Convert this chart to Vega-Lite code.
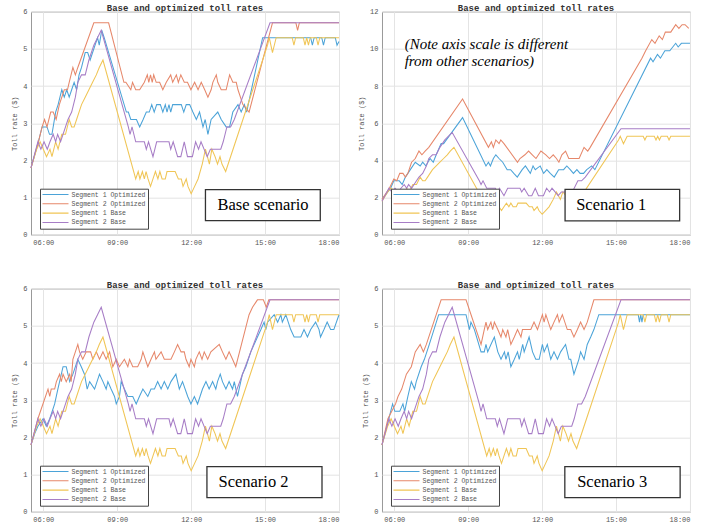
{
  "$schema": "https://vega.github.io/schema/vega-lite/v6.json",
  "background": "white",
  "padding": {"left": 10, "top": 3.7, "right": 0, "bottom": 0},
  "config": {
    "font": "Liberation Mono",
    "view": {"stroke": "#999999", "strokeWidth": 1},
    "title": {"font": "Liberation Mono", "fontSize": 9, "fontWeight": "bold", "color": "#333333", "offset": -5.8},
    "axis": {"domain": false, "ticks": false, "labelOverlap": false, "labelBound": false, "labelSeparation": 0, "gridColor": "#e4e4e4", "gridWidth": 1, "labelFont": "Liberation Mono", "labelFontSize": 7, "labelColor": "#555555", "titleFont": "Liberation Mono", "titleFontSize": 7, "titleColor": "#555555", "titleFontWeight": "normal"},
    "legend": {"symbolType": "stroke", "symbolSize": 676, "symbolStrokeWidth": 1, "clipHeight": 8.7, "rowPadding": 0.3, "padding": 1.5, "strokeColor": "#444444", "fillColor": "white", "labelFont": "Liberation Mono", "labelFontSize": 6.5, "labelColor": "#555555", "labelOffset": 2, "cornerRadius": 0},
    "line": {"strokeWidth": 1.05}
  },
  "datasets": {
    "base": [
      {"s":"1B","h":5.5,"v":1.8},{"s":"1B","h":5.73,"v":2.3},{"s":"1B","h":5.87,"v":2.5},{"s":"1B","h":6.0,"v":2.3},{"s":"1B","h":6.13,"v":2.1},{"s":"1B","h":6.27,"v":2.3},{"s":"1B","h":6.35,"v":2.1},{"s":"1B","h":6.5,"v":2.5},{"s":"1B","h":6.6,"v":2.3},{"s":"1B","h":6.75,"v":2.7},{"s":"1B","h":6.9,"v":2.7},{"s":"1B","h":7.05,"v":3.1},{"s":"1B","h":7.15,"v":2.9},{"s":"1B","h":7.25,"v":2.9},{"s":"1B","h":7.35,"v":3.1},{"s":"1B","h":7.55,"v":3.5},{"s":"1B","h":7.7,"v":3.7},{"s":"1B","h":7.85,"v":3.9},{"s":"1B","h":8.0,"v":4.1},{"s":"1B","h":8.15,"v":4.3},{"s":"1B","h":8.27,"v":4.5},{"s":"1B","h":8.42,"v":4.7},{"s":"1B","h":9.75,"v":1.5},{"s":"1B","h":9.85,"v":1.7},{"s":"1B","h":9.92,"v":1.5},{"s":"1B","h":10.02,"v":1.7},{"s":"1B","h":10.1,"v":1.5},{"s":"1B","h":10.17,"v":1.7},{"s":"1B","h":10.25,"v":1.5},{"s":"1B","h":10.35,"v":1.3},{"s":"1B","h":10.45,"v":1.5},{"s":"1B","h":10.55,"v":1.7},{"s":"1B","h":10.65,"v":1.5},{"s":"1B","h":10.73,"v":1.7},{"s":"1B","h":10.82,"v":1.5},{"s":"1B","h":10.95,"v":1.5},{"s":"1B","h":11.02,"v":1.7},{"s":"1B","h":11.35,"v":1.7},{"s":"1B","h":11.48,"v":1.5},{"s":"1B","h":11.6,"v":1.5},{"s":"1B","h":11.67,"v":1.3},{"s":"1B","h":11.8,"v":1.5},{"s":"1B","h":11.87,"v":1.3},{"s":"1B","h":12.0,"v":1.1},{"s":"1B","h":12.14,"v":1.3},{"s":"1B","h":12.28,"v":1.5},{"s":"1B","h":12.45,"v":1.9},{"s":"1B","h":12.58,"v":2.3},{"s":"1B","h":12.66,"v":2.1},{"s":"1B","h":12.74,"v":1.9},{"s":"1B","h":12.84,"v":2.3},{"s":"1B","h":12.97,"v":2.1},{"s":"1B","h":13.07,"v":1.9},{"s":"1B","h":13.17,"v":2.1},{"s":"1B","h":13.25,"v":1.9},{"s":"1B","h":13.4,"v":1.7},{"s":"1B","h":15.1,"v":5.1},{"s":"1B","h":15.17,"v":5.3},{"s":"1B","h":15.3,"v":4.9},{"s":"1B","h":15.45,"v":5.3},{"s":"1B","h":16.1,"v":5.3},{"s":"1B","h":16.17,"v":5.1},{"s":"1B","h":16.24,"v":5.3},{"s":"1B","h":16.55,"v":5.3},{"s":"1B","h":16.62,"v":5.1},{"s":"1B","h":16.69,"v":5.3},{"s":"1B","h":16.76,"v":5.1},{"s":"1B","h":16.83,"v":5.3},{"s":"1B","h":17.08,"v":5.3},{"s":"1B","h":17.15,"v":5.1},{"s":"1B","h":17.22,"v":5.3},{"s":"1B","h":18.0,"v":5.3},
      {"s":"2B","h":5.5,"v":1.8},{"s":"2B","h":5.78,"v":2.5},{"s":"2B","h":5.9,"v":2.3},{"s":"2B","h":6.03,"v":2.5},{"s":"2B","h":6.16,"v":2.3},{"s":"2B","h":6.27,"v":2.5},{"s":"2B","h":6.4,"v":2.7},{"s":"2B","h":6.5,"v":2.5},{"s":"2B","h":6.58,"v":2.7},{"s":"2B","h":6.7,"v":2.5},{"s":"2B","h":6.9,"v":2.9},{"s":"2B","h":7.0,"v":3.1},{"s":"2B","h":7.15,"v":3.3},{"s":"2B","h":7.3,"v":3.7},{"s":"2B","h":7.4,"v":4.1},{"s":"2B","h":7.55,"v":4.3},{"s":"2B","h":7.7,"v":4.3},{"s":"2B","h":7.85,"v":4.7},{"s":"2B","h":8.05,"v":5.1},{"s":"2B","h":8.2,"v":5.3},{"s":"2B","h":8.35,"v":5.5},{"s":"2B","h":9.45,"v":2.9},{"s":"2B","h":9.52,"v":2.7},{"s":"2B","h":9.6,"v":2.9},{"s":"2B","h":9.75,"v":2.5},{"s":"2B","h":10.1,"v":2.5},{"s":"2B","h":10.18,"v":2.3},{"s":"2B","h":10.27,"v":2.5},{"s":"2B","h":10.45,"v":2.1},{"s":"2B","h":10.6,"v":2.5},{"s":"2B","h":11.1,"v":2.5},{"s":"2B","h":11.17,"v":2.3},{"s":"2B","h":11.27,"v":2.5},{"s":"2B","h":11.45,"v":2.1},{"s":"2B","h":11.58,"v":2.1},{"s":"2B","h":11.72,"v":2.5},{"s":"2B","h":11.85,"v":2.1},{"s":"2B","h":12.05,"v":2.1},{"s":"2B","h":12.18,"v":2.5},{"s":"2B","h":12.3,"v":2.3},{"s":"2B","h":12.4,"v":2.5},{"s":"2B","h":12.65,"v":2.1},{"s":"2B","h":12.78,"v":2.3},{"s":"2B","h":13.2,"v":2.3},{"s":"2B","h":13.3,"v":2.5},{"s":"2B","h":13.45,"v":2.9},{"s":"2B","h":13.6,"v":2.9},{"s":"2B","h":13.75,"v":3.1},{"s":"2B","h":15.2,"v":5.7},{"s":"2B","h":18.0,"v":5.7}
    ],
    "opt0": [
      {"s":"1O","h":5.5,"v":1.8},{"s":"1O","h":5.8,"v":2.5},{"s":"1O","h":5.95,"v":2.9},{"s":"1O","h":6.15,"v":2.9},{"s":"1O","h":6.25,"v":2.7},{"s":"1O","h":6.35,"v":2.7},{"s":"1O","h":6.5,"v":3.3},{"s":"1O","h":6.6,"v":3.5},{"s":"1O","h":6.75,"v":3.9},{"s":"1O","h":6.85,"v":3.7},{"s":"1O","h":6.95,"v":3.9},{"s":"1O","h":7.05,"v":3.7},{"s":"1O","h":7.15,"v":3.9},{"s":"1O","h":7.25,"v":4.1},{"s":"1O","h":7.35,"v":3.9},{"s":"1O","h":7.45,"v":4.3},{"s":"1O","h":7.55,"v":4.5},{"s":"1O","h":7.7,"v":4.9},{"s":"1O","h":7.8,"v":4.9},{"s":"1O","h":7.9,"v":4.7},{"s":"1O","h":8.1,"v":5.1},{"s":"1O","h":8.2,"v":5.3},{"s":"1O","h":8.27,"v":5.1},{"s":"1O","h":8.37,"v":5.5},{"s":"1O","h":8.47,"v":5.3},{"s":"1O","h":9.37,"v":3.3},{"s":"1O","h":9.45,"v":3.3},{"s":"1O","h":9.55,"v":3.1},{"s":"1O","h":9.78,"v":3.1},{"s":"1O","h":9.91,"v":2.9},{"s":"1O","h":10.05,"v":3.1},{"s":"1O","h":10.18,"v":3.3},{"s":"1O","h":10.3,"v":3.3},{"s":"1O","h":10.4,"v":3.5},{"s":"1O","h":10.5,"v":3.3},{"s":"1O","h":10.6,"v":3.5},{"s":"1O","h":10.75,"v":3.5},{"s":"1O","h":10.85,"v":3.3},{"s":"1O","h":10.95,"v":3.5},{"s":"1O","h":11.02,"v":3.3},{"s":"1O","h":11.1,"v":3.5},{"s":"1O","h":11.17,"v":3.3},{"s":"1O","h":11.25,"v":3.5},{"s":"1O","h":11.6,"v":3.5},{"s":"1O","h":11.7,"v":3.3},{"s":"1O","h":11.8,"v":3.5},{"s":"1O","h":11.94,"v":3.5},{"s":"1O","h":12.07,"v":3.3},{"s":"1O","h":12.21,"v":3.1},{"s":"1O","h":12.34,"v":3.3},{"s":"1O","h":12.48,"v":2.9},{"s":"1O","h":12.57,"v":3.1},{"s":"1O","h":12.68,"v":2.7},{"s":"1O","h":12.81,"v":3.1},{"s":"1O","h":13.08,"v":3.3},{"s":"1O","h":13.22,"v":3.1},{"s":"1O","h":13.42,"v":2.9},{"s":"1O","h":13.56,"v":2.9},{"s":"1O","h":13.69,"v":3.3},{"s":"1O","h":13.9,"v":3.5},{"s":"1O","h":14.03,"v":3.3},{"s":"1O","h":14.16,"v":3.5},{"s":"1O","h":14.25,"v":3.3},{"s":"1O","h":14.9,"v":5.3},{"s":"1O","h":16.85,"v":5.3},{"s":"1O","h":16.92,"v":5.1},{"s":"1O","h":16.99,"v":5.3},{"s":"1O","h":17.3,"v":5.3},{"s":"1O","h":17.37,"v":5.1},{"s":"1O","h":17.44,"v":5.3},{"s":"1O","h":17.85,"v":5.3},{"s":"1O","h":17.92,"v":5.1},{"s":"1O","h":18.0,"v":5.2},
      {"s":"2O","h":5.5,"v":1.8},{"s":"2O","h":5.8,"v":2.5},{"s":"2O","h":5.95,"v":2.9},{"s":"2O","h":6.05,"v":3.1},{"s":"2O","h":6.15,"v":2.9},{"s":"2O","h":6.3,"v":3.3},{"s":"2O","h":6.4,"v":3.3},{"s":"2O","h":6.52,"v":3.1},{"s":"2O","h":6.65,"v":3.5},{"s":"2O","h":6.85,"v":3.9},{"s":"2O","h":6.98,"v":3.9},{"s":"2O","h":7.05,"v":4.1},{"s":"2O","h":7.2,"v":4.5},{"s":"2O","h":7.3,"v":4.3},{"s":"2O","h":7.4,"v":4.5},{"s":"2O","h":8.05,"v":5.7},{"s":"2O","h":8.65,"v":5.7},{"s":"2O","h":9.27,"v":4.1},{"s":"2O","h":9.35,"v":4.1},{"s":"2O","h":9.55,"v":3.9},{"s":"2O","h":9.62,"v":4.1},{"s":"2O","h":9.75,"v":3.9},{"s":"2O","h":9.91,"v":3.9},{"s":"2O","h":10.1,"v":4.1},{"s":"2O","h":10.22,"v":4.3},{"s":"2O","h":10.28,"v":4.1},{"s":"2O","h":10.35,"v":4.3},{"s":"2O","h":10.42,"v":4.1},{"s":"2O","h":10.48,"v":4.3},{"s":"2O","h":10.58,"v":4.1},{"s":"2O","h":10.72,"v":4.1},{"s":"2O","h":10.85,"v":3.9},{"s":"2O","h":10.99,"v":4.1},{"s":"2O","h":11.17,"v":4.3},{"s":"2O","h":11.25,"v":4.1},{"s":"2O","h":11.4,"v":4.3},{"s":"2O","h":11.48,"v":4.1},{"s":"2O","h":11.58,"v":4.3},{"s":"2O","h":11.72,"v":4.1},{"s":"2O","h":11.85,"v":4.1},{"s":"2O","h":11.99,"v":3.9},{"s":"2O","h":12.14,"v":4.1},{"s":"2O","h":12.28,"v":3.9},{"s":"2O","h":12.41,"v":4.1},{"s":"2O","h":12.55,"v":3.9},{"s":"2O","h":12.68,"v":3.7},{"s":"2O","h":12.81,"v":3.9},{"s":"2O","h":12.88,"v":4.1},{"s":"2O","h":13.02,"v":4.3},{"s":"2O","h":13.08,"v":4.1},{"s":"2O","h":13.22,"v":3.9},{"s":"2O","h":13.42,"v":3.9},{"s":"2O","h":13.56,"v":4.3},{"s":"2O","h":13.69,"v":4.1},{"s":"2O","h":13.83,"v":4.1},{"s":"2O","h":13.9,"v":3.9},{"s":"2O","h":14.1,"v":3.5},{"s":"2O","h":14.35,"v":3.3},{"s":"2O","h":15.3,"v":5.7},{"s":"2O","h":16.25,"v":5.7},{"s":"2O","h":16.32,"v":5.5},{"s":"2O","h":16.39,"v":5.7},{"s":"2O","h":18.0,"v":5.7}
    ],
    "opt1": [
      {"s":"1O","h":5.5,"v":1.9},{"s":"1O","h":5.85,"v":2.5},{"s":"1O","h":5.98,"v":2.9},{"s":"1O","h":6.2,"v":2.9},{"s":"1O","h":6.32,"v":2.7},{"s":"1O","h":6.45,"v":3.1},{"s":"1O","h":6.65,"v":3.5},{"s":"1O","h":6.85,"v":3.9},{"s":"1O","h":7.05,"v":3.7},{"s":"1O","h":7.15,"v":3.9},{"s":"1O","h":7.28,"v":3.7},{"s":"1O","h":7.45,"v":4.1},{"s":"1O","h":7.58,"v":3.9},{"s":"1O","h":7.7,"v":4.3},{"s":"1O","h":7.9,"v":4.9},{"s":"1O","h":8.0,"v":4.9},{"s":"1O","h":8.77,"v":6.3},{"s":"1O","h":9.72,"v":3.7},{"s":"1O","h":9.82,"v":3.9},{"s":"1O","h":9.9,"v":3.7},{"s":"1O","h":10.02,"v":4.1},{"s":"1O","h":10.12,"v":4.3},{"s":"1O","h":10.25,"v":4.1},{"s":"1O","h":10.4,"v":3.9},{"s":"1O","h":10.58,"v":3.5},{"s":"1O","h":10.72,"v":3.5},{"s":"1O","h":10.85,"v":3.3},{"s":"1O","h":10.99,"v":3.1},{"s":"1O","h":11.19,"v":3.5},{"s":"1O","h":11.32,"v":3.7},{"s":"1O","h":11.52,"v":3.3},{"s":"1O","h":11.63,"v":3.7},{"s":"1O","h":11.72,"v":3.5},{"s":"1O","h":11.92,"v":3.7},{"s":"1O","h":12.06,"v":3.3},{"s":"1O","h":12.19,"v":3.5},{"s":"1O","h":12.33,"v":3.3},{"s":"1O","h":12.49,"v":3.1},{"s":"1O","h":12.67,"v":3.5},{"s":"1O","h":12.87,"v":3.5},{"s":"1O","h":13.0,"v":3.7},{"s":"1O","h":13.14,"v":3.5},{"s":"1O","h":13.27,"v":3.3},{"s":"1O","h":13.41,"v":3.5},{"s":"1O","h":13.54,"v":3.3},{"s":"1O","h":13.68,"v":3.3},{"s":"1O","h":13.81,"v":3.5},{"s":"1O","h":14.01,"v":3.7},{"s":"1O","h":14.14,"v":3.5},{"s":"1O","h":16.4,"v":9.5},{"s":"1O","h":16.5,"v":9.3},{"s":"1O","h":16.68,"v":9.7},{"s":"1O","h":16.8,"v":9.5},{"s":"1O","h":16.98,"v":9.9},{"s":"1O","h":17.18,"v":9.9},{"s":"1O","h":17.42,"v":10.3},{"s":"1O","h":17.52,"v":10.1},{"s":"1O","h":17.65,"v":10.3},{"s":"1O","h":18.0,"v":10.3},
      {"s":"2O","h":5.5,"v":1.9},{"s":"2O","h":5.8,"v":2.5},{"s":"2O","h":5.98,"v":3.0},{"s":"2O","h":6.1,"v":2.9},{"s":"2O","h":6.22,"v":3.3},{"s":"2O","h":6.35,"v":3.3},{"s":"2O","h":6.45,"v":3.1},{"s":"2O","h":6.55,"v":3.3},{"s":"2O","h":6.7,"v":3.9},{"s":"2O","h":6.85,"v":4.1},{"s":"2O","h":7.0,"v":4.5},{"s":"2O","h":7.12,"v":4.3},{"s":"2O","h":7.25,"v":4.5},{"s":"2O","h":7.4,"v":4.7},{"s":"2O","h":8.77,"v":7.3},{"s":"2O","h":9.82,"v":4.7},{"s":"2O","h":9.94,"v":5.0},{"s":"2O","h":10.02,"v":4.7},{"s":"2O","h":10.12,"v":5.1},{"s":"2O","h":10.25,"v":4.9},{"s":"2O","h":10.32,"v":5.1},{"s":"2O","h":10.45,"v":4.9},{"s":"2O","h":11.0,"v":3.9},{"s":"2O","h":11.1,"v":4.1},{"s":"2O","h":11.3,"v":4.3},{"s":"2O","h":11.45,"v":4.5},{"s":"2O","h":11.6,"v":4.3},{"s":"2O","h":11.75,"v":4.1},{"s":"2O","h":11.95,"v":4.5},{"s":"2O","h":12.15,"v":4.3},{"s":"2O","h":12.3,"v":4.1},{"s":"2O","h":12.45,"v":4.3},{"s":"2O","h":12.58,"v":4.1},{"s":"2O","h":12.68,"v":3.9},{"s":"2O","h":12.8,"v":4.3},{"s":"2O","h":12.95,"v":4.5},{"s":"2O","h":13.08,"v":4.1},{"s":"2O","h":13.5,"v":4.1},{"s":"2O","h":13.7,"v":4.7},{"s":"2O","h":13.85,"v":4.5},{"s":"2O","h":13.95,"v":4.7},{"s":"2O","h":16.05,"v":9.5},{"s":"2O","h":16.2,"v":9.9},{"s":"2O","h":16.45,"v":10.5},{"s":"2O","h":16.58,"v":10.3},{"s":"2O","h":16.75,"v":10.7},{"s":"2O","h":16.88,"v":10.5},{"s":"2O","h":17.0,"v":10.9},{"s":"2O","h":17.22,"v":10.9},{"s":"2O","h":17.42,"v":11.3},{"s":"2O","h":17.55,"v":11.1},{"s":"2O","h":17.68,"v":11.3},{"s":"2O","h":17.8,"v":11.3},{"s":"2O","h":17.95,"v":11.1}
    ],
    "opt2": [
      {"s":"1O","h":5.5,"v":1.8},{"s":"1O","h":5.65,"v":2.1},{"s":"1O","h":5.78,"v":2.3},{"s":"1O","h":5.99,"v":2.5},{"s":"1O","h":6.12,"v":2.3},{"s":"1O","h":6.26,"v":2.5},{"s":"1O","h":6.46,"v":2.9},{"s":"1O","h":6.59,"v":3.3},{"s":"1O","h":6.8,"v":3.9},{"s":"1O","h":6.93,"v":3.9},{"s":"1O","h":7.07,"v":3.5},{"s":"1O","h":7.2,"v":3.7},{"s":"1O","h":7.4,"v":4.1},{"s":"1O","h":7.54,"v":3.9},{"s":"1O","h":7.67,"v":3.7},{"s":"1O","h":7.78,"v":3.3},{"s":"1O","h":7.88,"v":3.5},{"s":"1O","h":8.08,"v":3.3},{"s":"1O","h":8.28,"v":3.7},{"s":"1O","h":8.42,"v":3.5},{"s":"1O","h":8.55,"v":3.3},{"s":"1O","h":8.62,"v":3.5},{"s":"1O","h":8.75,"v":3.3},{"s":"1O","h":8.89,"v":3.1},{"s":"1O","h":8.96,"v":2.9},{"s":"1O","h":9.09,"v":3.1},{"s":"1O","h":9.16,"v":3.5},{"s":"1O","h":9.29,"v":3.3},{"s":"1O","h":9.43,"v":3.1},{"s":"1O","h":9.63,"v":3.1},{"s":"1O","h":9.77,"v":2.9},{"s":"1O","h":9.9,"v":3.1},{"s":"1O","h":10.04,"v":3.3},{"s":"1O","h":10.24,"v":3.1},{"s":"1O","h":10.37,"v":3.3},{"s":"1O","h":10.51,"v":3.3},{"s":"1O","h":10.64,"v":3.5},{"s":"1O","h":10.78,"v":3.3},{"s":"1O","h":10.91,"v":3.5},{"s":"1O","h":11.05,"v":3.3},{"s":"1O","h":11.18,"v":3.5},{"s":"1O","h":11.38,"v":3.7},{"s":"1O","h":11.52,"v":3.3},{"s":"1O","h":11.65,"v":3.5},{"s":"1O","h":11.86,"v":3.1},{"s":"1O","h":11.99,"v":2.9},{"s":"1O","h":12.13,"v":3.1},{"s":"1O","h":12.26,"v":2.9},{"s":"1O","h":12.46,"v":3.3},{"s":"1O","h":12.6,"v":3.5},{"s":"1O","h":12.73,"v":3.3},{"s":"1O","h":12.87,"v":3.5},{"s":"1O","h":13.0,"v":3.3},{"s":"1O","h":13.07,"v":3.5},{"s":"1O","h":13.18,"v":3.7},{"s":"1O","h":13.27,"v":3.5},{"s":"1O","h":13.41,"v":3.3},{"s":"1O","h":13.54,"v":3.5},{"s":"1O","h":13.68,"v":3.3},{"s":"1O","h":13.75,"v":3.5},{"s":"1O","h":13.88,"v":3.1},{"s":"1O","h":14.08,"v":3.7},{"s":"1O","h":14.22,"v":3.9},{"s":"1O","h":14.42,"v":4.3},{"s":"1O","h":14.69,"v":4.7},{"s":"1O","h":14.83,"v":4.9},{"s":"1O","h":14.96,"v":5.1},{"s":"1O","h":15.03,"v":4.9},{"s":"1O","h":15.1,"v":5.1},{"s":"1O","h":15.37,"v":5.3},{"s":"1O","h":15.51,"v":5.1},{"s":"1O","h":15.64,"v":5.3},{"s":"1O","h":15.7,"v":5.1},{"s":"1O","h":15.84,"v":5.3},{"s":"1O","h":16.04,"v":4.9},{"s":"1O","h":16.18,"v":4.7},{"s":"1O","h":16.45,"v":4.7},{"s":"1O","h":16.58,"v":4.9},{"s":"1O","h":16.72,"v":4.7},{"s":"1O","h":16.85,"v":4.9},{"s":"1O","h":17.05,"v":5.1},{"s":"1O","h":17.19,"v":4.9},{"s":"1O","h":17.25,"v":4.7},{"s":"1O","h":17.39,"v":4.9},{"s":"1O","h":17.52,"v":5.1},{"s":"1O","h":17.66,"v":4.9},{"s":"1O","h":17.79,"v":4.9},{"s":"1O","h":18.0,"v":5.3},
      {"s":"2O","h":5.5,"v":1.8},{"s":"2O","h":5.78,"v":2.5},{"s":"2O","h":6.19,"v":3.3},{"s":"2O","h":6.26,"v":3.1},{"s":"2O","h":6.32,"v":3.3},{"s":"2O","h":6.46,"v":3.3},{"s":"2O","h":6.53,"v":3.5},{"s":"2O","h":6.66,"v":3.7},{"s":"2O","h":6.73,"v":3.5},{"s":"2O","h":6.8,"v":3.7},{"s":"2O","h":6.93,"v":3.5},{"s":"2O","h":7.07,"v":3.7},{"s":"2O","h":7.13,"v":3.5},{"s":"2O","h":7.2,"v":4.1},{"s":"2O","h":7.4,"v":4.5},{"s":"2O","h":7.47,"v":4.3},{"s":"2O","h":7.6,"v":4.1},{"s":"2O","h":7.74,"v":4.3},{"s":"2O","h":7.92,"v":4.3},{"s":"2O","h":8.01,"v":4.1},{"s":"2O","h":8.15,"v":4.3},{"s":"2O","h":8.28,"v":4.1},{"s":"2O","h":8.42,"v":4.3},{"s":"2O","h":8.55,"v":4.1},{"s":"2O","h":8.69,"v":4.3},{"s":"2O","h":8.82,"v":3.9},{"s":"2O","h":8.96,"v":4.1},{"s":"2O","h":9.09,"v":3.9},{"s":"2O","h":9.29,"v":4.1},{"s":"2O","h":9.43,"v":3.9},{"s":"2O","h":9.5,"v":4.1},{"s":"2O","h":9.63,"v":3.9},{"s":"2O","h":9.83,"v":3.9},{"s":"2O","h":9.97,"v":4.1},{"s":"2O","h":10.04,"v":4.3},{"s":"2O","h":10.24,"v":3.9},{"s":"2O","h":10.37,"v":4.1},{"s":"2O","h":10.51,"v":4.3},{"s":"2O","h":10.57,"v":4.1},{"s":"2O","h":10.78,"v":4.3},{"s":"2O","h":10.91,"v":4.1},{"s":"2O","h":11.18,"v":4.1},{"s":"2O","h":11.32,"v":4.3},{"s":"2O","h":11.45,"v":4.5},{"s":"2O","h":11.59,"v":4.3},{"s":"2O","h":11.72,"v":4.3},{"s":"2O","h":11.79,"v":4.1},{"s":"2O","h":11.92,"v":3.9},{"s":"2O","h":11.99,"v":4.1},{"s":"2O","h":12.13,"v":3.9},{"s":"2O","h":12.19,"v":4.1},{"s":"2O","h":12.33,"v":4.3},{"s":"2O","h":12.44,"v":4.1},{"s":"2O","h":12.53,"v":4.3},{"s":"2O","h":12.67,"v":4.1},{"s":"2O","h":12.8,"v":4.3},{"s":"2O","h":13.14,"v":4.5},{"s":"2O","h":13.27,"v":4.3},{"s":"2O","h":13.41,"v":4.1},{"s":"2O","h":13.54,"v":4.3},{"s":"2O","h":13.68,"v":4.1},{"s":"2O","h":13.81,"v":3.9},{"s":"2O","h":14.35,"v":5.3},{"s":"2O","h":14.49,"v":5.5},{"s":"2O","h":14.69,"v":5.7},{"s":"2O","h":14.93,"v":5.7},{"s":"2O","h":15.05,"v":5.5},{"s":"2O","h":15.15,"v":5.7},{"s":"2O","h":18.0,"v":5.7}
    ],
    "opt3": [
      {"s":"1O","h":5.5,"v":1.8},{"s":"1O","h":5.7,"v":2.3},{"s":"1O","h":5.93,"v":2.9},{"s":"1O","h":6.02,"v":2.7},{"s":"1O","h":6.22,"v":2.7},{"s":"1O","h":6.35,"v":2.9},{"s":"1O","h":6.42,"v":2.7},{"s":"1O","h":6.55,"v":3.1},{"s":"1O","h":6.69,"v":3.5},{"s":"1O","h":6.82,"v":3.3},{"s":"1O","h":6.89,"v":3.5},{"s":"1O","h":7.09,"v":3.9},{"s":"1O","h":7.22,"v":4.1},{"s":"1O","h":7.42,"v":4.5},{"s":"1O","h":7.8,"v":5.3},{"s":"1O","h":8.91,"v":5.3},{"s":"1O","h":8.98,"v":5.1},{"s":"1O","h":9.05,"v":4.9},{"s":"1O","h":9.11,"v":5.1},{"s":"1O","h":9.25,"v":4.9},{"s":"1O","h":9.52,"v":4.3},{"s":"1O","h":9.65,"v":4.3},{"s":"1O","h":9.72,"v":4.5},{"s":"1O","h":9.79,"v":4.3},{"s":"1O","h":9.92,"v":4.5},{"s":"1O","h":10.06,"v":4.7},{"s":"1O","h":10.2,"v":4.3},{"s":"1O","h":10.33,"v":4.1},{"s":"1O","h":10.47,"v":4.3},{"s":"1O","h":10.53,"v":4.1},{"s":"1O","h":10.62,"v":4.3},{"s":"1O","h":10.73,"v":3.9},{"s":"1O","h":10.87,"v":4.1},{"s":"1O","h":11.0,"v":4.3},{"s":"1O","h":11.07,"v":4.1},{"s":"1O","h":11.21,"v":4.5},{"s":"1O","h":11.27,"v":4.3},{"s":"1O","h":11.47,"v":4.7},{"s":"1O","h":11.61,"v":4.3},{"s":"1O","h":11.74,"v":4.1},{"s":"1O","h":11.88,"v":4.1},{"s":"1O","h":12.01,"v":4.5},{"s":"1O","h":12.08,"v":4.3},{"s":"1O","h":12.21,"v":4.5},{"s":"1O","h":12.35,"v":4.1},{"s":"1O","h":12.48,"v":4.3},{"s":"1O","h":12.62,"v":4.1},{"s":"1O","h":12.75,"v":4.3},{"s":"1O","h":12.95,"v":4.5},{"s":"1O","h":13.09,"v":4.1},{"s":"1O","h":13.16,"v":4.1},{"s":"1O","h":13.29,"v":3.7},{"s":"1O","h":13.49,"v":4.1},{"s":"1O","h":13.56,"v":4.3},{"s":"1O","h":13.7,"v":4.1},{"s":"1O","h":13.83,"v":4.5},{"s":"1O","h":13.97,"v":4.7},{"s":"1O","h":14.1,"v":4.9},{"s":"1O","h":14.3,"v":5.3},{"s":"1O","h":15.9,"v":5.3},{"s":"1O","h":15.95,"v":5.1},{"s":"1O","h":16.0,"v":5.3},{"s":"1O","h":16.05,"v":5.1},{"s":"1O","h":16.1,"v":5.3},{"s":"1O","h":18.0,"v":5.3},
      {"s":"2O","h":5.5,"v":1.8},{"s":"2O","h":5.74,"v":2.5},{"s":"2O","h":6.05,"v":2.9},{"s":"2O","h":6.15,"v":3.1},{"s":"2O","h":6.3,"v":3.3},{"s":"2O","h":6.49,"v":3.7},{"s":"2O","h":6.69,"v":3.9},{"s":"2O","h":6.85,"v":4.3},{"s":"2O","h":7.05,"v":4.5},{"s":"2O","h":7.18,"v":4.3},{"s":"2O","h":7.3,"v":4.5},{"s":"2O","h":7.9,"v":5.7},{"s":"2O","h":8.91,"v":5.7},{"s":"2O","h":9.52,"v":4.5},{"s":"2O","h":9.65,"v":4.9},{"s":"2O","h":9.72,"v":5.1},{"s":"2O","h":9.79,"v":4.9},{"s":"2O","h":9.92,"v":5.1},{"s":"2O","h":9.99,"v":4.9},{"s":"2O","h":10.06,"v":5.1},{"s":"2O","h":10.2,"v":4.9},{"s":"2O","h":10.33,"v":4.7},{"s":"2O","h":10.4,"v":4.9},{"s":"2O","h":10.53,"v":4.7},{"s":"2O","h":10.6,"v":4.9},{"s":"2O","h":10.73,"v":4.5},{"s":"2O","h":10.87,"v":4.7},{"s":"2O","h":11.0,"v":4.9},{"s":"2O","h":11.14,"v":4.7},{"s":"2O","h":11.2,"v":4.9},{"s":"2O","h":11.54,"v":4.9},{"s":"2O","h":11.67,"v":5.1},{"s":"2O","h":11.81,"v":4.9},{"s":"2O","h":12.01,"v":5.3},{"s":"2O","h":12.08,"v":5.1},{"s":"2O","h":12.15,"v":5.3},{"s":"2O","h":12.35,"v":4.9},{"s":"2O","h":12.48,"v":5.1},{"s":"2O","h":12.62,"v":5.3},{"s":"2O","h":12.69,"v":5.1},{"s":"2O","h":12.82,"v":5.3},{"s":"2O","h":13.02,"v":4.9},{"s":"2O","h":13.16,"v":4.9},{"s":"2O","h":13.29,"v":4.7},{"s":"2O","h":13.43,"v":4.9},{"s":"2O","h":13.56,"v":5.1},{"s":"2O","h":13.7,"v":4.9},{"s":"2O","h":13.83,"v":5.1},{"s":"2O","h":14.1,"v":5.7},{"s":"2O","h":18.0,"v":5.7}
    ]
  },
  "columns": 2,
  "spacing": {"row": 54, "column": 43},
  "bounds": "flush",
  "resolve": {"scale": {"x": "independent", "y": "independent", "color": "independent"}, "axis": {"x": "independent", "y": "independent"}, "legend": {"color": "independent"}},
  "concat": [
    {
      "title": "Base and optimized toll rates",
      "width": 308, "height": 223,
      "layer": [
        {"data": {"name": "opt0"}, "mark": "line",
         "encoding": {
           "x": {"field": "h", "type": "quantitative", "scale": {"domain": [5.5, 18], "nice": false, "zero": false}, "axis": {"values": [6, 9, 12, 15, 18], "labelExpr": "(datum.value < 10 ? '0' : '') + datum.value + ':00'", "title": null, "labelPadding": 4, "labelOverlap": false}},
           "y": {"field": "v", "type": "quantitative", "scale": {"domain": [0, 6], "nice": false}, "axis": {"tickCount": 6, "title": "Toll rate ($)", "titlePadding": 5, "labelPadding": 4, "labelOverlap": false}},
           "color": {"field": "s", "type": "nominal", "scale": {"domain": ["1O", "2O", "1B", "2B"], "range": ["#4ba3d8", "#e6876a", "#f0c555", "#a77dc6"]}, "legend": {"orient": "none", "legendX": 9, "legendY": 177, "title": null, "zindex": 1, "labelExpr": "datum.value == '1O' ? 'Segment 1 Optimized' : datum.value == '2O' ? 'Segment 2 Optimized' : datum.value == '1B' ? 'Segment 1 Base' : 'Segment 2 Base'"}}
         }},
        {"data": {"name": "base"}, "mark": "line",
         "encoding": {
           "x": {"field": "h", "type": "quantitative"},
           "y": {"field": "v", "type": "quantitative"},
           "color": {"field": "s", "type": "nominal"}
         }},
        {"data": {"values": [{"h": 12.58, "h2": 17.24, "v": 0.377, "v2": 1.21}]},
         "mark": {"type": "rect", "fill": "white", "stroke": "#333333", "strokeWidth": 1.3},
         "encoding": {"x": {"field": "h", "type": "quantitative"}, "x2": {"field": "h2"}, "y": {"field": "v", "type": "quantitative"}, "y2": {"field": "v2"}}},
        {"data": {"values": [{"h": 13.07, "v": 0.795, "label": "Base scenario"}]},
         "mark": {"type": "text", "align": "left", "baseline": "middle", "font": "Liberation Serif", "fontSize": 16.5, "color": "black"},
         "encoding": {"x": {"field": "h", "type": "quantitative"}, "y": {"field": "v", "type": "quantitative"}, "text": {"field": "label"}}}
      ]
    },
    {
      "title": "Base and optimized toll rates",
      "width": 308, "height": 223,
      "layer": [
        {"data": {"name": "opt1"}, "mark": "line",
         "encoding": {
           "x": {"field": "h", "type": "quantitative", "scale": {"domain": [5.5, 18], "nice": false, "zero": false}, "axis": {"values": [6, 9, 12, 15, 18], "labelExpr": "(datum.value < 10 ? '0' : '') + datum.value + ':00'", "title": null, "labelPadding": 4, "labelOverlap": false}},
           "y": {"field": "v", "type": "quantitative", "scale": {"domain": [0, 12], "nice": false}, "axis": {"tickCount": 6, "title": "Toll rate ($)", "titlePadding": 5, "labelPadding": 4, "labelOverlap": false}},
           "color": {"field": "s", "type": "nominal", "scale": {"domain": ["1O", "2O", "1B", "2B"], "range": ["#4ba3d8", "#e6876a", "#f0c555", "#a77dc6"]}, "legend": {"orient": "none", "legendX": 9, "legendY": 177, "title": null, "zindex": 1, "labelExpr": "datum.value == '1O' ? 'Segment 1 Optimized' : datum.value == '2O' ? 'Segment 2 Optimized' : datum.value == '1B' ? 'Segment 1 Base' : 'Segment 2 Base'"}}
         }},
        {"data": {"name": "base"}, "mark": "line",
         "encoding": {
           "x": {"field": "h", "type": "quantitative"},
           "y": {"field": "v", "type": "quantitative"},
           "color": {"field": "s", "type": "nominal"}
         }},
        {"data": {"values": [{"h": 12.93, "h2": 17.58, "v": 0.74, "v2": 2.44}]},
         "mark": {"type": "rect", "fill": "white", "stroke": "#333333", "strokeWidth": 1.3},
         "encoding": {"x": {"field": "h", "type": "quantitative"}, "x2": {"field": "h2"}, "y": {"field": "v", "type": "quantitative"}, "y2": {"field": "v2"}}},
        {"data": {"values": [{"h": 13.38, "v": 1.59, "label": "Scenario 1"}]},
         "mark": {"type": "text", "align": "left", "baseline": "middle", "font": "Liberation Serif", "fontSize": 16.5, "color": "black"},
         "encoding": {"x": {"field": "h", "type": "quantitative"}, "y": {"field": "v", "type": "quantitative"}, "text": {"field": "label"}}},
        {"data": {"values": [{"h": 6.42, "v": 10.24, "label": "(Note axis scale is different"}, {"h": 6.42, "v": 9.35, "label": "from other scenarios)"}]},
         "mark": {"type": "text", "align": "left", "baseline": "middle", "font": "Liberation Serif", "fontSize": 15, "fontStyle": "italic", "color": "black"},
         "encoding": {"x": {"field": "h", "type": "quantitative"}, "y": {"field": "v", "type": "quantitative"}, "text": {"field": "label"}}}
      ]
    },
    {
      "title": "Base and optimized toll rates",
      "width": 308, "height": 223,
      "layer": [
        {"data": {"name": "opt2"}, "mark": "line",
         "encoding": {
           "x": {"field": "h", "type": "quantitative", "scale": {"domain": [5.5, 18], "nice": false, "zero": false}, "axis": {"values": [6, 9, 12, 15, 18], "labelExpr": "(datum.value < 10 ? '0' : '') + datum.value + ':00'", "title": null, "labelPadding": 4, "labelOverlap": false}},
           "y": {"field": "v", "type": "quantitative", "scale": {"domain": [0, 6], "nice": false}, "axis": {"tickCount": 6, "title": "Toll rate ($)", "titlePadding": 5, "labelPadding": 4, "labelOverlap": false}},
           "color": {"field": "s", "type": "nominal", "scale": {"domain": ["1O", "2O", "1B", "2B"], "range": ["#4ba3d8", "#e6876a", "#f0c555", "#a77dc6"]}, "legend": {"orient": "none", "legendX": 9, "legendY": 177, "title": null, "zindex": 1, "labelExpr": "datum.value == '1O' ? 'Segment 1 Optimized' : datum.value == '2O' ? 'Segment 2 Optimized' : datum.value == '1B' ? 'Segment 1 Base' : 'Segment 2 Base'"}}
         }},
        {"data": {"name": "base"}, "mark": "line",
         "encoding": {
           "x": {"field": "h", "type": "quantitative"},
           "y": {"field": "v", "type": "quantitative"},
           "color": {"field": "s", "type": "nominal"}
         }},
        {"data": {"values": [{"h": 12.64, "h2": 17.31, "v": 0.376, "v2": 1.21}]},
         "mark": {"type": "rect", "fill": "white", "stroke": "#333333", "strokeWidth": 1.3},
         "encoding": {"x": {"field": "h", "type": "quantitative"}, "x2": {"field": "h2"}, "y": {"field": "v", "type": "quantitative"}, "y2": {"field": "v2"}}},
        {"data": {"values": [{"h": 13.11, "v": 0.795, "label": "Scenario 2"}]},
         "mark": {"type": "text", "align": "left", "baseline": "middle", "font": "Liberation Serif", "fontSize": 16.5, "color": "black"},
         "encoding": {"x": {"field": "h", "type": "quantitative"}, "y": {"field": "v", "type": "quantitative"}, "text": {"field": "label"}}}
      ]
    },
    {
      "title": "Base and optimized toll rates",
      "width": 308, "height": 223,
      "layer": [
        {"data": {"name": "opt3"}, "mark": "line",
         "encoding": {
           "x": {"field": "h", "type": "quantitative", "scale": {"domain": [5.5, 18], "nice": false, "zero": false}, "axis": {"values": [6, 9, 12, 15, 18], "labelExpr": "(datum.value < 10 ? '0' : '') + datum.value + ':00'", "title": null, "labelPadding": 4, "labelOverlap": false}},
           "y": {"field": "v", "type": "quantitative", "scale": {"domain": [0, 6], "nice": false}, "axis": {"tickCount": 6, "title": "Toll rate ($)", "titlePadding": 5, "labelPadding": 4, "labelOverlap": false}},
           "color": {"field": "s", "type": "nominal", "scale": {"domain": ["1O", "2O", "1B", "2B"], "range": ["#4ba3d8", "#e6876a", "#f0c555", "#a77dc6"]}, "legend": {"orient": "none", "legendX": 9, "legendY": 177, "title": null, "zindex": 1, "labelExpr": "datum.value == '1O' ? 'Segment 1 Optimized' : datum.value == '2O' ? 'Segment 2 Optimized' : datum.value == '1B' ? 'Segment 1 Base' : 'Segment 2 Base'"}}
         }},
        {"data": {"name": "base"}, "mark": "line",
         "encoding": {
           "x": {"field": "h", "type": "quantitative"},
           "y": {"field": "v", "type": "quantitative"},
           "color": {"field": "s", "type": "nominal"}
         }},
        {"data": {"values": [{"h": 12.92, "h2": 17.6, "v": 0.376, "v2": 1.21}]},
         "mark": {"type": "rect", "fill": "white", "stroke": "#333333", "strokeWidth": 1.3},
         "encoding": {"x": {"field": "h", "type": "quantitative"}, "x2": {"field": "h2"}, "y": {"field": "v", "type": "quantitative"}, "y2": {"field": "v2"}}},
        {"data": {"values": [{"h": 13.42, "v": 0.795, "label": "Scenario 3"}]},
         "mark": {"type": "text", "align": "left", "baseline": "middle", "font": "Liberation Serif", "fontSize": 16.5, "color": "black"},
         "encoding": {"x": {"field": "h", "type": "quantitative"}, "y": {"field": "v", "type": "quantitative"}, "text": {"field": "label"}}}
      ]
    }
  ]
}
